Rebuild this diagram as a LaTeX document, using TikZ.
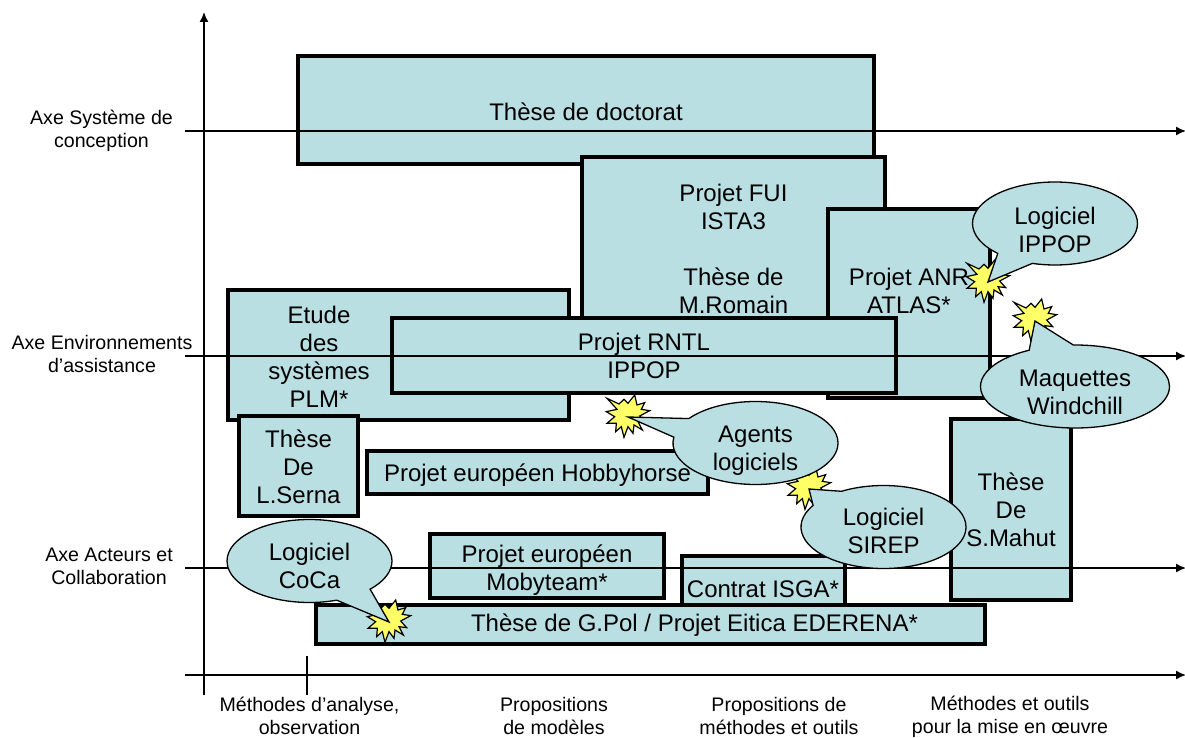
\documentclass[tikz,border=0pt]{standalone}
\usepackage{fontspec}
\setmainfont{Liberation Sans}
\usetikzlibrary{shapes.callouts,arrows.meta}
\definecolor{boxfill}{HTML}{B9DFE3}
\definecolor{burstfill}{HTML}{FFFF66}
\newcommand{\burstat}[3]{\coordinate (#1) at (#2,#3);
 \draw[burststyle,shift={(#1)}] (-63,-56)--(-27,-39)--(-12,-53)--(0,-41)--(20,-66)--(27,-36)--(50,-43)--(40,-23)--(65,-19)--(35,-3)--(53,17)--(30,14)--(43,39)--(18,24)--(15,49)--(0,29)--(-12,61)--(-20,29)--(-37,44)--(-35,19)--(-63,19)--(-40,-1)--(-65,-16)--(-33,-23)--cycle;}
\tikzset{
 x=1pt,y=-1pt,
 projbox/.style={draw=black,line width=4pt,fill=boxfill,inner sep=0pt,align=center,font=\fontsize{24}{28}\selectfont,miter limit=10},
 boxtext/.style={inner sep=0pt,align=center,font=\fontsize{24}{28}\selectfont},
 axisline/.style={draw=black,line width=1.5pt,-{Latex[length=10pt,width=9pt]}},
 axislabel/.style={inner sep=0pt,align=center,font=\fontsize{19.6}{23}\selectfont},
 burststyle/.style={draw=black,line width=1.2pt,fill=burstfill,x=0.3333pt,y=-0.3333pt,line join=miter},
 bubble/.style={shape=ellipse callout,draw=black,line width=1.3pt,fill=boxfill,inner sep=0pt,minimum width=165pt,minimum height=83pt,callout pointer arc=28},
}
\begin{document}
\begin{tikzpicture}
\useasboundingbox (0,0) rectangle (1185,738);
% project boxes
\node[projbox,minimum width=576pt,minimum height=108pt] (doct) at (586,110) {};
\node[projbox,minimum width=303pt,minimum height=184pt] (fui) at (733.5,249) {Projet FUI\\ISTA3\\\strut\\Thèse de\\M.Romain};
\node[projbox,minimum width=162pt,minimum height=189pt] (anr) at (909,303.5) {};
\node[projbox,minimum width=341pt,minimum height=130pt] (plm) at (398.5,355) {};
\node[projbox,minimum width=504pt,minimum height=75pt] (rntl) at (644,355.5) {Projet RNTL\\IPPOP};
\node[projbox,minimum width=119pt,minimum height=100pt] (serna) at (298.5,466) {};
\node[projbox,minimum width=341pt,minimum height=43pt] (hobby) at (537.5,472.5) {};
\node[projbox,minimum width=234pt,minimum height=64pt] (moby) at (547,566) {};
\node[projbox,minimum width=163pt,minimum height=49pt] (isga) at (763.5,580.5) {};
\node[projbox,minimum width=120pt,minimum height=181pt] (mahut) at (1011,509.5) {Thèse\\De\\S.Mahut};
\node[projbox,minimum width=669pt,minimum height=39pt] (pol) at (650.5,624.5) {};
% box texts
\node[boxtext] (doctt) at (586,112) {Thèse de doctorat};
\node[boxtext] (anrt) at (909,291) {Projet ANR\\ATLAS*};
\node[boxtext] (plmt) at (319,357) {Etude\\des\\systèmes\\PLM*};
\node[boxtext] (sernat) at (298.5,467) {Thèse\\De\\L.Serna};
\node[boxtext] (hobbyt) at (537.5,475) {Projet européen Hobbyhorse};
\node[boxtext] (mobyt) at (547,570) {Projet européen\\Mobyteam*};
\node[boxtext] (isgat) at (763,589) {Contrat ISGA*};
\node[boxtext] (polt) at (694.5,625) {Thèse de G.Pol / Projet Eitica EDERENA*};
% axes
\coordinate (ya) at (204,695); \coordinate (yb) at (204,12);
\coordinate (a1) at (185,131); \coordinate (a1e) at (1186,131);
\coordinate (a2) at (185,356); \coordinate (a2e) at (1186,356);
\coordinate (a3) at (185,568); \coordinate (a3e) at (1186,568);
\coordinate (a4) at (185,675); \coordinate (a4e) at (1186,675);
\coordinate (t1) at (307,656); \coordinate (t2) at (307,695);
\draw[axisline] (ya) -- (yb);
\draw[axisline] (a1) -- (a1e);
\draw[axisline] (a2) -- (a2e);
\draw[axisline] (a3) -- (a3e);
\draw[axisline] (a4) -- (a4e);
\draw[line width=1.2pt] (t1) -- (t2);
% axis labels
\node[axislabel] (l1) at (101.5,131) {Axe Système de\\conception};
\node[axislabel] (l2) at (102,353.5) {Axe Environnements\\d’assistance};
\node[axislabel] (l3) at (109,566) {Axe Acteurs et\\Collaboration};
\node[axislabel] (m1) at (309.5,716) {Méthodes d’analyse,\\observation};
\node[axislabel] (m2) at (554,716) {Propositions\\de modèles};
\node[axislabel] (m3) at (779,716) {Propositions de\\méthodes et outils};
\node[axislabel] (m4) at (1010,716.5) {Méthodes et outils\\pour la mise en œuvre};
% bursts
\burstat{b1}{988}{282}
\burstat{b2}{1035}{321}
\burstat{b3}{628}{417}
\burstat{b4}{809}{489}
\burstat{b5}{389}{622}
% callouts
\node[bubble,callout absolute pointer={(b4)}] (sirep) at (883.5,527) {};
\node[bubble,callout absolute pointer={(b3)}] (agents) at (755.5,443) {};
\node[bubble,callout absolute pointer={(b1)}] (ippop) at (1055,223.5) {};
\node[bubble,minimum width=189pt,callout absolute pointer={(b2)}] (maq) at (1075,386.5) {};
\node[bubble,callout absolute pointer={(b5)}] (coca) at (309.5,561) {};
\node[boxtext] (sirept) at (883.5,531) {Logiciel\\SIREP};
\node[boxtext] (agentst) at (755.5,451) {Agents\\logiciels};
\node[boxtext] (ippopt) at (1055,229.5) {Logiciel\\IPPOP};
\node[boxtext] (maqt) at (1075,392) {Maquettes\\Windchill};
\node[boxtext] (cocat) at (309.5,566) {Logiciel\\CoCa};
\end{tikzpicture}
\end{document}
